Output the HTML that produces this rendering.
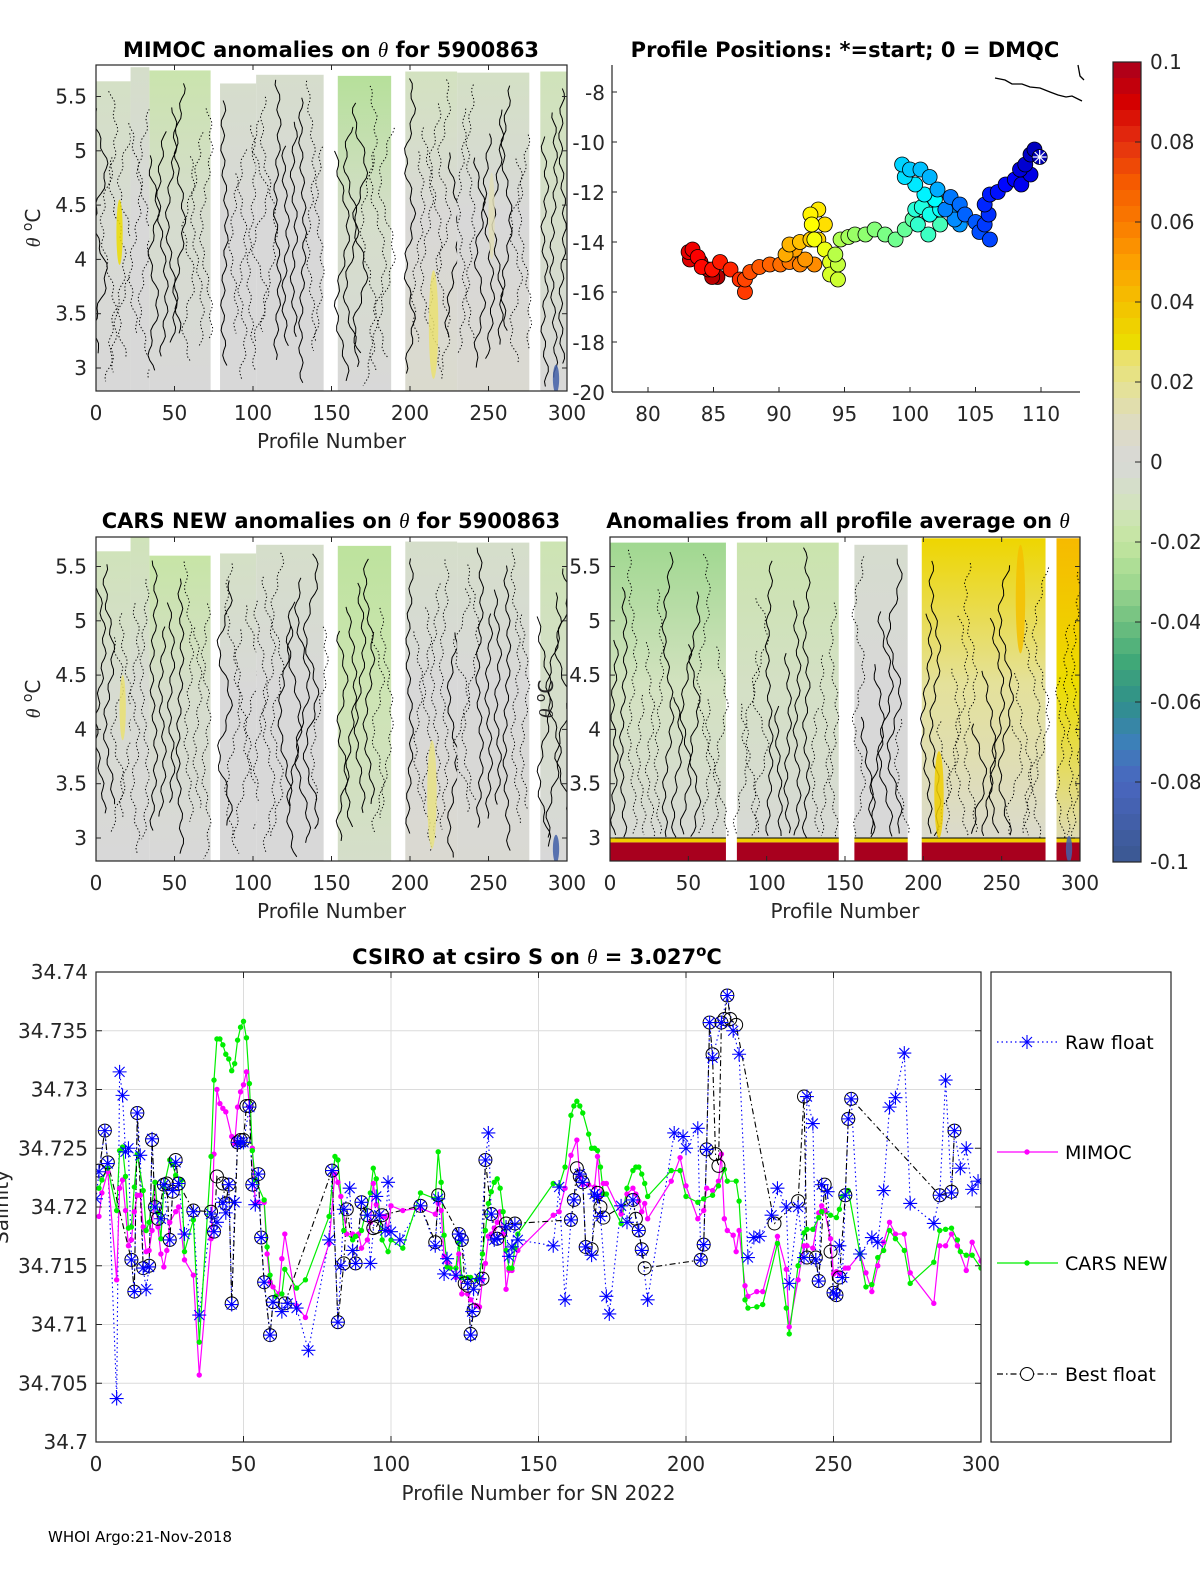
<!DOCTYPE html>
<html><head><meta charset="utf-8"><style>
html,body{margin:0;padding:0;background:#fff;}
svg{display:block;font-family:"DejaVu Sans","Liberation Sans",sans-serif;}
.tk{font-size:20px;fill:#262626;}
.ttl{font-size:21px;font-weight:bold;fill:#000;}
</style></head><body>
<svg id="fig" width="1200" height="1575" viewBox="0 0 1200 1575" xmlns="http://www.w3.org/2000/svg">
<g id="g-p1"></g>
<g id="g-p3"></g>
<g id="g-p4"></g>
<g id="g-map"></g>
<g id="g-cb"></g>
<g id="g-bot"></g>
<text x="331" y="57" text-anchor="middle" class="ttl">MIMOC anomalies on <tspan font-family="Liberation Serif" font-style="italic" font-weight="normal">θ</tspan>  for 5900863</text>
<text x="845" y="57" text-anchor="middle" class="ttl">Profile Positions: *=start; 0 = DMQC</text>
<text x="331" y="528" text-anchor="middle" class="ttl">CARS NEW anomalies on <tspan font-family="Liberation Serif" font-style="italic" font-weight="normal">θ</tspan> for 5900863</text>
<text x="838" y="528" text-anchor="middle" class="ttl">Anomalies from all profile average on <tspan font-family="Liberation Serif" font-style="italic" font-weight="normal">θ</tspan></text>
<text x="537" y="964" text-anchor="middle" class="ttl">CSIRO at csiro S on <tspan font-family="Liberation Serif" font-style="italic" font-weight="normal">θ</tspan> = 3.027<tspan dy="-8" font-size="15">o</tspan><tspan dy="8">C</tspan></text>
<text x="48" y="1542" font-size="15" fill="#000">WHOI Argo:21-Nov-2018</text>
</svg>
<script>
// ---------- DATA ----------
const cbTicks = [0.1,0.08,0.06,0.04,0.02,0,-0.02,-0.04,-0.06,-0.08,-0.1];
const cbTickLabels = ["0.1","0.08","0.06","0.04","0.02","0","-0.02","-0.04","-0.06","-0.08","-0.1"];
const thetaTicks = [3,3.5,4,4.5,5,5.5];
const thetaTickLabels = ["3","3.5","4","4.5","5","5.5"];
const profTicks = [0,50,100,150,200,250,300];
const lonTicks = [80,85,90,95,100,105,110];
const latTicks = [-8,-10,-12,-14,-16,-18,-20];
// anomaly blocks: [profileStart, profileEnd, thetaTop, anomTop, anomMid, anomBottom]
const mimocBlocks = [[0,22,5.64,-0.008,-0.002,0],[22,34,5.77,-0.006,0,0],[34,73,5.74,-0.016,-0.004,0],[79,102,5.62,-0.005,0,0],[102,145,5.70,-0.005,0,0],[154,188,5.69,-0.024,-0.006,0],[197,230,5.73,-0.01,0.001,0.004],[230,276,5.72,-0.008,0,0.003],[283,300,5.73,-0.012,-0.006,0]];
const carsBlocks = [[0,22,5.64,-0.012,-0.003,0],[22,34,5.77,-0.012,-0.002,0],[34,73,5.60,-0.018,-0.005,0],[79,102,5.62,-0.008,0,0],[102,145,5.70,-0.006,0,0],[154,188,5.69,-0.022,-0.014,-0.006],[197,230,5.73,-0.006,0,0.003],[230,276,5.72,-0.006,0,0.002],[283,300,5.73,-0.014,-0.006,0]];
const avgBlocks = [[0,74,5.72,-0.03,-0.01,0],[81,146,5.72,-0.016,-0.008,0],[156,190,5.70,-0.004,0,0],[199,278,5.76,0.032,0.018,0.002],[285,300,5.76,0.042,0.03,0.005]];
// blobs: [profile, thetaCenter, halfWidthProfiles, halfHeightTheta, anomaly]
const mimocBlobs = [[15,4.25,2,0.3,0.03],[215,3.4,3,0.5,0.025],[252,4.4,2,0.4,0.012],[293,2.9,2,0.13,-0.09]];
const carsBlobs = [[17,4.2,2,0.3,0.025],[214,3.4,3,0.5,0.022],[293,2.9,2,0.13,-0.09]];
const avgBlobs = [[293,2.9,2,0.12,-0.09],[210,3.4,3,0.4,0.035],[262,5.2,3,0.5,0.04]];
// salinity series: [profile, salinity]
const rawFloat = [[0,34.7207],[1,34.723],[3,34.7265],[4,34.7237],[7,34.7037],[8,34.7315],[9,34.7295],[10,34.7247],[11,34.725],[12,34.7155],[13,34.7128],[14,34.728],[15,34.7244],[16,34.7148],[17,34.713],[18,34.7149],[19,34.7258],[20,34.72],[22,34.719],[23,34.7219],[25,34.7172],[26,34.7214],[27,34.7238],[28,34.722],[30,34.7177],[33,34.7196],[35,34.7108],[39,34.7194],[40,34.7179],[41,34.7187],[43,34.7204],[44,34.7195],[45,34.7219],[46,34.7117],[47,34.7204],[48,34.7255],[49,34.7255],[50,34.7255],[52,34.7285],[53,34.7219],[54,34.7202],[55,34.7228],[56,34.7174],[57,34.7136],[59,34.7091],[60,34.7119],[63,34.7111],[65,34.7118],[68,34.7114],[72,34.7078],[79,34.7172],[80,34.7231],[82,34.7102],[83,34.715],[84,34.7198],[86,34.7216],[87,34.7163],[88,34.7152],[90,34.7204],[92,34.7193],[93,34.7152],[95,34.7209],[96,34.7193],[98,34.718],[99,34.7221],[100,34.7179],[103,34.7172],[110,34.7201],[115,34.7167],[116,34.7207],[118,34.7143],[119,34.7156],[122,34.7142],[123,34.7177],[124,34.7172],[126,34.7135],[127,34.7091],[127.5,34.7111],[128,34.713],[130,34.7139],[132,34.724],[133,34.7263],[134,34.7194],[135,34.7172],[136,34.7173],[139,34.7183],[140,34.7158],[141,34.7166],[142,34.7185],[143,34.7172],[155,34.7167],[157,34.7217],[159,34.7121],[161,34.7189],[162,34.7206],[164,34.7228],[165,34.7221],[166,34.7166],[168,34.7159],[169,34.7211],[170,34.7209],[171,34.7192],[173,34.7124],[174,34.7109],[178,34.7201],[180,34.7187],[182,34.7206],[184,34.718],[185,34.7163],[187,34.7121],[196,34.7263],[199,34.726],[200,34.725],[204,34.7267],[205,34.7155],[206,34.7168],[207,34.7249],[208,34.7357],[209,34.7327],[212,34.7357],[214,34.738],[216,34.735],[218,34.733],[221,34.7157],[223,34.7174],[225,34.7175],[229,34.7193],[231,34.7216],[234,34.72],[235,34.7135],[238,34.72],[240,34.7157],[241,34.7294],[243,34.7271],[244,34.7155],[245,34.7137],[246,34.7219],[248,34.7213],[250,34.7127],[251,34.7125],[252,34.7167],[253,34.714],[254,34.721],[255,34.7275],[256,34.7292],[259,34.716],[263,34.7174],[265,34.717],[267,34.7214],[269,34.7285],[271,34.7293],[274,34.7331],[276,34.7203],[284,34.7186],[286,34.721],[288,34.7308],[290,34.7212],[291,34.7265],[293,34.7233],[295,34.725],[297,34.7215],[299,34.7222]];
const bestFloat = [[1,34.7231],[3,34.7265],[4,34.7238],[12,34.7155],[13,34.7128],[14,34.728],[16,34.7148],[18,34.715],[19,34.7257],[20,34.72],[21,34.719],[23,34.7219],[24,34.722],[25,34.7172],[26,34.7213],[27,34.724],[28,34.722],[33,34.7197],[39,34.7196],[40,34.7179],[41,34.7226],[43,34.722],[44,34.7203],[45,34.7219],[46,34.7118],[48,34.7255],[49,34.7257],[50,34.7257],[51,34.7286],[52,34.7286],[53,34.7219],[55,34.7228],[56,34.7174],[57,34.7136],[59,34.7091],[60,34.7119],[64,34.7118],[80,34.7231],[82,34.7102],[84,34.7152],[85,34.7198],[88,34.7152],[90,34.7204],[92,34.7193],[94,34.7182],[95,34.7183],[97,34.7193],[110,34.7201],[115,34.717],[116,34.721],[123,34.7177],[124,34.7172],[125,34.7135],[126,34.7133],[127,34.7092],[128,34.7112],[131,34.7139],[132,34.724],[134,34.7194],[136,34.7173],[137,34.7178],[139,34.7186],[142,34.7186],[161,34.7189],[162,34.7206],[163,34.7233],[164,34.7226],[165,34.7221],[166,34.7166],[168,34.7164],[170,34.7212],[171,34.72],[172,34.7191],[182,34.7206],[183,34.719],[184,34.718],[185,34.7164],[186,34.7148],[205,34.7155],[206,34.7168],[207,34.7249],[208,34.7357],[209,34.733],[210,34.7245],[211,34.7235],[212,34.7357],[213,34.736],[214,34.738],[215,34.736],[217,34.7355],[230,34.7186],[238,34.7205],[240,34.7294],[241,34.7157],[244,34.7157],[245,34.7137],[247,34.7219],[249,34.7162],[250,34.7127],[251,34.7125],[252,34.714],[254,34.721],[255,34.7275],[256,34.7292],[286,34.721],[290,34.7213],[291,34.7265]];
const carsNew = [[1,34.7216],[2,34.7223],[4,34.7233],[7,34.7197],[8,34.7248],[9,34.7251],[10,34.7226],[11,34.7182],[12,34.7183],[13,34.7217],[14,34.7245],[16,34.7214],[17,34.718],[18,34.7187],[20,34.7221],[21,34.7195],[22,34.7173],[23,34.7217],[25,34.724],[26,34.7236],[27,34.7227],[29,34.7223],[30,34.7162],[33,34.7189],[35,34.7085],[39,34.7243],[40,34.7308],[41,34.7343],[42,34.7343],[43,34.7338],[44,34.733],[45,34.7326],[46,34.7316],[47,34.7322],[48,34.7342],[49,34.7353],[50,34.7358],[51,34.7344],[52,34.7305],[53,34.7248],[54,34.7223],[57,34.7206],[58,34.7166],[59,34.7142],[61,34.7124],[63,34.7126],[64,34.7147],[68,34.7131],[71,34.7138],[79,34.7192],[81,34.7243],[82,34.724],[84,34.718],[87,34.7172],[88,34.7175],[90,34.718],[93,34.7212],[94,34.7233],[95,34.7224],[97,34.7172],[99,34.7162],[100,34.7172],[104,34.7165],[110,34.7212],[115,34.7207],[116,34.7247],[117,34.7221],[118,34.7176],[119,34.7149],[120,34.7148],[122,34.7148],[123,34.717],[124,34.714],[126,34.714],[127,34.714],[129,34.7138],[130,34.714],[131,34.716],[132,34.718],[133,34.7203],[134,34.7213],[135,34.7221],[136,34.7224],[137,34.7216],[138,34.7196],[139,34.7163],[140,34.7148],[141,34.7148],[142,34.7165],[143,34.7177],[155,34.722],[157,34.7218],[159,34.7234],[161,34.7278],[162,34.7286],[163,34.729],[164,34.7286],[165,34.728],[167,34.7262],[168,34.725],[169,34.725],[170,34.7248],[171,34.7234],[172,34.7211],[173,34.7211],[178,34.7186],[180,34.7216],[182,34.7231],[183,34.7234],[184,34.7234],[185,34.7228],[186,34.722],[187,34.7209],[195,34.7231],[198,34.7231],[200,34.7209],[204,34.7204],[206,34.7207],[209,34.721],[211,34.7218],[213,34.7232],[214,34.7222],[217,34.7222],[218,34.7205],[220,34.7121],[221,34.7114],[224,34.7115],[226,34.7117],[231,34.7169],[234,34.7114],[235,34.7092],[238,34.715],[240,34.7178],[241,34.7181],[243,34.7181],[245,34.7191],[246,34.7196],[249,34.7193],[251,34.7191],[252,34.7198],[253,34.7209],[255,34.7214],[259,34.716],[261,34.7132],[263,34.7134],[265,34.7157],[267,34.7163],[269,34.718],[271,34.7173],[274,34.7163],[276,34.7135],[284,34.7153],[286,34.718],[288,34.7181],[290,34.7182],[292,34.7172],[293,34.7162],[295,34.7159],[297,34.7159],[300,34.7148]];
const mimocSal = [[1,34.7192],[2,34.7212],[4,34.723],[7,34.7138],[8,34.7216],[9,34.7223],[10,34.7197],[11,34.7167],[12,34.7172],[13,34.7196],[14,34.721],[15,34.721],[16,34.7183],[17,34.7162],[18,34.7163],[19,34.718],[20,34.7221],[21,34.7183],[22,34.716],[23,34.7149],[24,34.7163],[25,34.7187],[27,34.7196],[28,34.72],[30,34.7155],[33,34.7142],[35,34.7057],[39,34.7173],[40,34.7245],[41,34.73],[42,34.7288],[43,34.7284],[44,34.7281],[46,34.726],[47,34.7254],[48,34.7285],[49,34.7298],[50,34.7304],[51,34.7315],[52,34.7285],[53,34.725],[54,34.7203],[55,34.7204],[57,34.7204],[58,34.716],[59,34.7136],[60,34.7132],[62,34.7126],[63,34.7156],[64,34.7177],[68,34.7116],[71,34.7106],[79,34.7169],[81,34.7228],[82,34.7221],[83,34.7209],[85,34.7177],[87,34.7177],[89,34.7177],[90,34.7165],[92,34.7172],[93,34.7187],[94,34.722],[95,34.7202],[97,34.7192],[98,34.7192],[99,34.718],[100,34.7201],[104,34.7197],[110,34.7199],[115,34.7194],[116,34.7203],[117,34.7197],[118,34.7158],[119,34.7153],[120,34.7149],[122,34.714],[123,34.716],[124,34.7126],[126,34.7126],[127,34.7121],[129,34.7116],[130,34.7115],[131,34.7138],[132,34.7152],[133,34.7175],[134,34.7177],[135,34.7182],[136,34.7187],[137,34.7196],[138,34.7177],[139,34.713],[140,34.7146],[141,34.7146],[143,34.7163],[155,34.7193],[157,34.7196],[159,34.7216],[161,34.7244],[163,34.7257],[164,34.7226],[165,34.7219],[167,34.7219],[169,34.7217],[170,34.7243],[171,34.7209],[172,34.722],[173,34.722],[178,34.7194],[180,34.7211],[182,34.7216],[183,34.7211],[184,34.7205],[185,34.7196],[186,34.7203],[187,34.719],[195,34.7222],[198,34.7242],[200,34.7218],[204,34.719],[206,34.7197],[207,34.7216],[209,34.7214],[211,34.7222],[212,34.7245],[213,34.719],[214,34.718],[216,34.7176],[217,34.7162],[218,34.718],[220,34.7133],[221,34.7124],[224,34.7128],[226,34.7128],[231,34.7175],[234,34.7147],[235,34.7098],[238,34.7138],[240,34.7167],[241,34.7167],[243,34.7165],[245,34.7195],[246,34.7201],[247,34.7197],[249,34.7173],[250,34.7143],[251,34.7145],[252,34.7143],[254,34.7148],[255,34.7148],[259,34.716],[261,34.7144],[263,34.7128],[265,34.715],[267,34.717],[269,34.7187],[271,34.7177],[274,34.7177],[276,34.7144],[284,34.7118],[286,34.7167],[288,34.7167],[290,34.7177],[292,34.7167],[295,34.7146],[297,34.717],[300,34.7154]];
const salTicks = [34.74,34.735,34.73,34.725,34.72,34.715,34.71,34.705,34.7];
const salTickLabels = ["34.74","34.735","34.73","34.725","34.72","34.715","34.71","34.705","34.7"];
// float track: [lon, lat], start -> end
const track = [[109.9,-10.6],[109.5,-10.3],[109.2,-10.5],[108.8,-10.9],[108.4,-11.1],[109.2,-11.3],[108.5,-11.7],[108.0,-11.5],[107.3,-11.7],[106.7,-12.0],[106.1,-12.1],[105.7,-12.5],[106.0,-12.9],[105.7,-13.3],[106.1,-13.9],[105.3,-13.6],[105.0,-13.2],[104.2,-12.9],[103.8,-12.5],[103.1,-12.2],[102.7,-12.7],[103.4,-13.1],[103.8,-13.3],[103.4,-12.9],[102.1,-11.9],[101.5,-11.4],[100.8,-11.1],[100.0,-11.1],[99.4,-10.9],[99.6,-11.4],[100.4,-11.7],[101.1,-12.1],[101.9,-12.3],[102.3,-12.7],[101.5,-12.9],[100.9,-12.6],[100.4,-12.7],[100.6,-13.3],[101.4,-13.7],[102.3,-13.3],[101.5,-12.9],[100.2,-13.1],[99.6,-13.5],[98.9,-13.9],[98.1,-13.7],[97.3,-13.5],[96.6,-13.7],[95.8,-13.7],[95.3,-13.8],[94.7,-13.9],[94.3,-14.5],[94.5,-14.9],[94.5,-15.5],[93.9,-15.3],[93.9,-14.8],[93.5,-14.3],[92.7,-13.9],[92.5,-13.3],[92.4,-12.9],[93.0,-12.7],[93.5,-13.3],[93.0,-13.9],[92.4,-13.9],[91.6,-14.0],[90.8,-14.1],[90.5,-14.5],[91.2,-14.3],[92.0,-14.7],[92.7,-14.9],[91.6,-14.9],[90.8,-14.8],[90.1,-14.9],[89.3,-14.9],[88.5,-15.0],[87.8,-15.2],[87.4,-15.5],[87.4,-16.0],[87.0,-15.5],[86.3,-15.1],[85.5,-14.8],[84.9,-15.1],[84.1,-15.0],[83.8,-14.6],[83.4,-14.3],[83.1,-14.4],[83.2,-14.7],[84.0,-14.8],[84.6,-15.1],[84.9,-15.4],[85.3,-15.4]];

// ---------- HELPERS ----------
const NS='http://www.w3.org/2000/svg';
function mk(tag, attrs, parent){const e=document.createElementNS(NS,tag);for(const k in attrs)e.setAttribute(k,attrs[k]);if(parent)parent.appendChild(e);return e;}
const cmapStops=[[-0.1,[58,88,144]],[-0.08,[74,102,192]],[-0.07,[60,128,184]],[-0.06,[48,144,138]],[-0.05,[64,168,120]],[-0.04,[112,192,128]],[-0.03,[160,216,144]],[-0.02,[196,230,160]],[-0.01,[211,226,192]],[0,[216,216,216]],[0.01,[222,220,192]],[0.02,[230,226,144]],[0.028,[236,224,96]],[0.03,[236,220,0]],[0.04,[244,192,0]],[0.05,[252,160,0]],[0.06,[250,122,0]],[0.07,[245,90,0]],[0.08,[228,48,16]],[0.09,[212,0,0]],[0.1,[168,0,30]]];
function cmap(v){v=Math.max(-0.1,Math.min(0.1,v));for(let i=1;i<cmapStops.length;i++){const a=cmapStops[i-1],b=cmapStops[i];if(v<=b[0]){const t=(v-a[0])/(b[0]-a[0]);const c=a[1].map((x,j)=>Math.round(x+(b[1][j]-x)*t));return `rgb(${c[0]},${c[1]},${c[2]})`;}}return 'rgb(168,0,30)';}
function jet(t){const cl=x=>Math.max(0,Math.min(1,x));const r=cl(1.5-Math.abs(4*t-3)),g=cl(1.5-Math.abs(4*t-2)),b=cl(1.5-Math.abs(4*t-1));return `rgb(${Math.round(r*255)},${Math.round(g*255)},${Math.round(b*255)})`;}
function txt(parent,x,y,s,anchor,cls,name){const t=mk('text',{x:x,y:y,'text-anchor':anchor,class:cls},parent);t.textContent=s;return t;}
let gradId=0;

// ---------- ANOMALY PANELS ----------
function anomalyPanel(gid, X0, X1, Y0, Y1, y3, blocks, blobs, redBand, xlab, ylabX, seed){
  const g=document.getElementById(gid);
  const sx=p=>X0+p*(X1-X0)/300;
  const sy=th=>y3-(th-3)*108.6;
  const thBot=3-(Y1-y3)/108.6;
  const defs=mk('defs',{},g);
  const cp='clip'+gid; const c=mk('clipPath',{id:cp},defs); mk('rect',{x:X0,y:Y0,width:X1-X0,height:Y1-Y0},c);
  const inner=mk('g',{'clip-path':`url(#${cp})`},g);
  blocks.forEach((b,i)=>{
    const id='gr'+(gradId++);
    const lg=mk('linearGradient',{id:id,x1:0,y1:0,x2:0,y2:1},defs);
    mk('stop',{offset:'0','stop-color':cmap(b[3])},lg);
    mk('stop',{offset:'0.45','stop-color':cmap(b[4])},lg);
    mk('stop',{offset:'1','stop-color':cmap(b[5])},lg);
    const r=mk('rect',{x:sx(b[0]),y:sy(b[2]),width:sx(b[1])-sx(b[0]),height:sy(thBot)-sy(b[2]),fill:`url(#${id})`},inner);
    
    
    if(redBand){
      const rb=mk('rect',{x:sx(b[0]),y:sy(2.96),width:sx(b[1])-sx(b[0]),height:sy(thBot)-sy(2.96),fill:cmap(0.1)},inner);
      
      
      mk('rect',{x:sx(b[0]),y:sy(3.0),width:sx(b[1])-sx(b[0]),height:sy(2.96)-sy(3.0),fill:cmap(0.035)},inner);
      mk('line',{x1:sx(b[0]),x2:sx(b[1]),y1:sy(3.0),y2:sy(3.0),stroke:'#000','stroke-width':1},inner);
    }
    const w=sx(b[1])-sx(b[0]);
    const n=Math.max(2,Math.round(w/9));
    for(let k=0;k<n;k++){
      const h=(k*73+seed*17+i*29)%97;
      const xb=sx(b[0])+(k+0.5)*w/n;
      let d='';
      const ytop=sy(b[2])+5+(h%90)*(redBand?2.2:1);
      const ybot=redBand?sy(3.0):Y1-((h*7)%60);
      const amp=2+(h%6);
      for(let y=ytop;y<=ybot;y+=5){
        const xx=xb+amp*Math.sin((y+h*13)/(15+h%20))+2*Math.sin((y*1.7+k*11)/7);
        d+=(d?'L':'M')+xx.toFixed(1)+' '+y.toFixed(1);
      }
      const ln=mk('path',{d:d,fill:'none',stroke:'#000','stroke-width':1,'stroke-dasharray':(h%2===0)?'none':'1.3 2.2'},inner);
      
      
    }
  });
  blobs.forEach(b=>{
    const e=mk('ellipse',{cx:sx(b[0]),cy:sy(b[1]),rx:sx(b[2])-sx(0),ry:b[3]*108.6,fill:cmap(b[4]),opacity:0.85},inner);
    
    
  });
  const box=mk('rect',{x:X0,y:Y0,width:X1-X0,height:Y1-Y0,fill:'none',stroke:'#262626','stroke-width':1.2},g);
  
  
  profTicks.forEach(p=>{
    mk('line',{x1:sx(p),x2:sx(p),y1:Y1,y2:Y1-5,stroke:'#262626'},g);
    mk('line',{x1:sx(p),x2:sx(p),y1:Y0,y2:Y0+5,stroke:'#262626'},g);
    txt(g,sx(p),Y1+29,String(p),'middle','tk','x-tick-label');
  });
  thetaTicks.forEach((t,i)=>{
    mk('line',{x1:X0,x2:X0+5,y1:sy(t),y2:sy(t),stroke:'#262626'},g);
    mk('line',{x1:X1,x2:X1-5,y1:sy(t),y2:sy(t),stroke:'#262626'},g);
    txt(g,X0-9,sy(t)+7,thetaTickLabels[i],'end','tk','y-tick-label');
  });
  txt(g,(X0+X1)/2,Y1+57,xlab,'middle','tk','x-axis-title').setAttribute('font-size','21');
  const yl=mk('text',{x:0,y:0,transform:`translate(${ylabX},${(Y0+Y1)/2}) rotate(-90)`,'text-anchor':'middle',class:'tk'},g);
  
  
  yl.innerHTML='<tspan font-family="Liberation Serif" font-style="italic">θ</tspan> <tspan dy="-8" font-size="14">o</tspan><tspan dy="8">C</tspan>';
}
anomalyPanel('g-p1',96,567,65,391,368,mimocBlocks,mimocBlobs,false,'Profile Number',40,7);
anomalyPanel('g-p3',96,567,537,861,838,carsBlocks,carsBlobs,false,'Profile Number',40,19);
anomalyPanel('g-p4',610,1080,537,861,838,avgBlocks,avgBlobs,true,'Profile Number',553,31);

// ---------- MAP ----------
(function(){
  const g=document.getElementById('g-map');
  const X0=612,X1=1080,Y0=65,Y1=392;
  const lx=lon=>648+(lon-80)*13.1;
  const ly=lat=>92+(-8-lat)*25;
  mk('line',{x1:X0,x2:X0,y1:Y0,y2:Y1,stroke:'#262626','stroke-width':1.2},g);
  mk('line',{x1:X0,x2:X1,y1:Y1,y2:Y1,stroke:'#262626','stroke-width':1.2},g);
  latTicks.forEach(t=>{mk('line',{x1:X0,x2:X0+5,y1:ly(t),y2:ly(t),stroke:'#262626'},g);txt(g,X0-7,ly(t)+8,String(t),'end','tk','lat-tick-label');});
  lonTicks.forEach(t=>{mk('line',{x1:lx(t),x2:lx(t),y1:Y1,y2:Y1-5,stroke:'#262626'},g);txt(g,lx(t),Y1+29,String(t),'middle','tk','lon-tick-label');});
  const coast=mk('path',{d:'M995 78 L1005 80 L1012 84 L1022 84 L1030 87 L1040 88 L1050 92 L1058 95 L1066 97 L1072 96 L1082 101 M1078 65 L1080 76 L1084 80',fill:'none',stroke:'#000','stroke-width':1.3},g);
  
  
  let d='';track.forEach((p,i)=>{d+=(i?'L':'M')+lx(p[0]).toFixed(1)+' '+ly(p[1]).toFixed(1);});
  const tl=mk('path',{d:d,fill:'none',stroke:'#000','stroke-width':0.8},g);
  
  
  for(let i=track.length-1;i>=0;i--){
    const p=track[i];
    const c=mk('circle',{cx:lx(p[0]),cy:ly(p[1]),r:7.5,fill:jet(0.05+0.9*i/(track.length-1)),stroke:'#000','stroke-width':0.8},g);
    
    
  }
  const s=track[0],cx=lx(s[0]),cy=ly(s[1]);
  const st=mk('path',{d:`M${cx-7} ${cy}H${cx+7}M${cx} ${cy-7}V${cy+7}M${cx-5} ${cy-5}L${cx+5} ${cy+5}M${cx-5} ${cy+5}L${cx+5} ${cy-5}`,stroke:'#fff','stroke-width':1.2},g);
  
  
})();

// ---------- COLORBAR ----------
(function(){
  const g=document.getElementById('g-cb');
  const X0=1113,X1=1141,Y0=62,Y1=862;
  const cy=v=>Y0+(0.1-v)/0.2*(Y1-Y0);
  for(let v=0.1;v>-0.1+1e-9;v-=0.004){
    const r=mk('rect',{x:X0,y:cy(v),width:X1-X0,height:cy(v-0.004)-cy(v)+0.5,fill:cmap(v-0.002)},g);
    
    
  }
  mk('rect',{x:X0,y:Y0,width:X1-X0,height:Y1-Y0,fill:'none',stroke:'#262626','stroke-width':1.2},g);
  cbTicks.forEach((t,i)=>{mk('line',{x1:X1,x2:X1-6,y1:cy(t),y2:cy(t),stroke:'#262626'},g);txt(g,1150,cy(t)+7,cbTickLabels[i],'start','tk','colorbar-tick-label').setAttribute('font-size','18');});
})();

// ---------- SALINITY CHART ----------
(function(){
  const g=document.getElementById('g-bot');
  const X0=96,X1=981,Y0=972,Y1=1442;
  const sx=p=>X0+p*(X1-X0)/300;
  const sy=s=>Y0+(34.74-s)/0.04*(Y1-Y0);
  mk('rect',{x:X0,y:Y0,width:X1-X0,height:Y1-Y0,fill:'#fff'},g);
  profTicks.forEach(p=>{const l=mk('line',{x1:sx(p),x2:sx(p),y1:Y0,y2:Y1,stroke:'#dcdcdc'},g);});
  salTicks.forEach(s=>{const l=mk('line',{x1:X0,x2:X1,y1:sy(s),y2:sy(s),stroke:'#dcdcdc'},g);});
  const cp=mk('clipPath',{id:'clipbot'},mk('defs',{},g));mk('rect',{x:X0,y:Y0,width:X1-X0,height:Y1-Y0},cp);
  const inner=mk('g',{'clip-path':'url(#clipbot)'},g);
  function line(arr,color,dash,w,name){let d='';arr.forEach((p,i)=>{d+=(i?'L':'M')+sx(p[0]).toFixed(1)+' '+sy(p[1]).toFixed(1);});const e=mk('path',{d:d,fill:'none',stroke:color,'stroke-width':w,'stroke-dasharray':dash},inner);}
  line(rawFloat,'#0000ff','1.5 3',1.1,'raw-float-line');
  line(mimocSal,'#ff00ff','none',1.2,'mimoc-line');
  line(carsNew,'#00ee00','none',1.2,'cars-new-line');
  line(bestFloat,'#000','6 3 1.5 3',1.1,'best-float-line');
  mimocSal.forEach(p=>{const c=mk('circle',{cx:sx(p[0]),cy:sy(p[1]),r:2.7,fill:'#ff00ff'},inner);});
  carsNew.forEach(p=>{const c=mk('circle',{cx:sx(p[0]),cy:sy(p[1]),r:2.7,fill:'#00ee00'},inner);});
  bestFloat.forEach(p=>{const c=mk('circle',{cx:sx(p[0]),cy:sy(p[1]),r:6.5,fill:'none',stroke:'#000','stroke-width':1},inner);});
  function star(x,y,parent){return mk('path',{d:`M${x-7} ${y}H${x+7}M${x} ${y-7}V${y+7}M${x-5} ${y-5}L${x+5} ${y+5}M${x-5} ${y+5}L${x+5} ${y-5}`,stroke:'#0000ff','stroke-width':1.1,fill:'none'},parent);}
  rawFloat.forEach(p=>{const s=star(sx(p[0]),sy(p[1]),inner);});
  mk('rect',{x:X0,y:Y0,width:X1-X0,height:Y1-Y0,fill:'none',stroke:'#262626','stroke-width':1.2},g);
  profTicks.forEach(p=>{mk('line',{x1:sx(p),x2:sx(p),y1:Y1,y2:Y1-6,stroke:'#262626'},g);mk('line',{x1:sx(p),x2:sx(p),y1:Y0,y2:Y0+6,stroke:'#262626'},g);txt(g,sx(p),Y1+29,String(p),'middle','tk','x-tick-label');});
  salTicks.forEach((s,i)=>{mk('line',{x1:X0,x2:X0+6,y1:sy(s),y2:sy(s),stroke:'#262626'},g);mk('line',{x1:X1,x2:X1-6,y1:sy(s),y2:sy(s),stroke:'#262626'},g);txt(g,X0-8,sy(s)+7,salTickLabels[i],'end','tk','y-tick-label');});
  txt(g,(X0+X1)/2,1500,'Profile Number for SN 2022','middle','tk','x-axis-title').setAttribute('font-size','21');
  const yl=mk('text',{x:0,y:0,transform:`translate(8,${(Y0+Y1)/2}) rotate(-90)`,'text-anchor':'middle',class:'tk'},g);
  yl.textContent='Salinity';
  
  
  const lg=mk('g',{},g);
  
  
  mk('rect',{x:991,y:Y0,width:180,height:Y1-Y0,fill:'#fff',stroke:'#262626','stroke-width':1.2},lg);
  const ent=[['Raw float',1042,'#0000ff','1.5 3','star'],['MIMOC',1152,'#ff00ff','none','dot'],['CARS NEW',1263,'#00ee00','none','dotg'],['Best float',1374,'#000','6 3 1.5 3','circ']];
  ent.forEach(e=>{
    const eg=mk('g',{},lg);
    
    
    mk('line',{x1:997,x2:1058,y1:e[1],y2:e[1],stroke:e[2],'stroke-width':1.2,'stroke-dasharray':e[3]},eg);
    if(e[4]==='star')star(1027,e[1],eg);
    else if(e[4]==='circ')mk('circle',{cx:1027,cy:e[1],r:6.5,fill:'#fff',stroke:'#000'},eg);
    else mk('circle',{cx:1027,cy:e[1],r:2.7,fill:e[2]},eg);
    const t=mk('text',{x:1065,y:e[1]+7,'font-size':19,fill:'#000'},eg);t.textContent=e[0];
  });
})();
</script>
</body></html>
